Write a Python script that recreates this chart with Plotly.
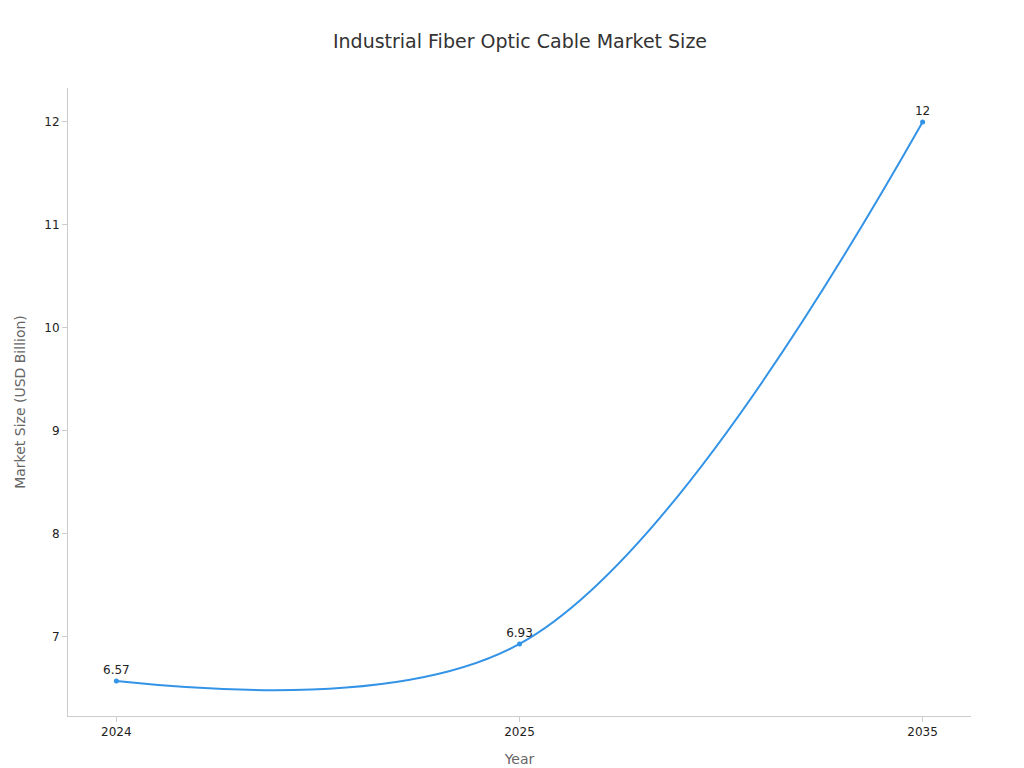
import plotly.graph_objects as go

years = ["2024", "2025", "2035"]
values = [6.57, 6.93, 12]
labels = ["6.57", "6.93", "12"]

fig = go.Figure(go.Scatter(
    x=years, y=values, mode="lines+markers+text",
    line=dict(color="#3393e6", width=2, shape="spline", smoothing=1.0),
    marker=dict(size=5, color="#3393e6"),
    text=labels, textposition="top center",
    textfont=dict(size=12, color="#222"),
    hoverinfo="x+y", showlegend=False,
))
fig.update_layout(
    width=1024, height=768,
    font=dict(family="DejaVu Sans, sans-serif", color="#333"),
    title=dict(text="Industrial Fiber Optic Cable Market Size", x=0.5, xanchor="center",
               y=0.957, yanchor="middle", font=dict(size=19, color="#333")),
    plot_bgcolor="white", paper_bgcolor="white",
    margin=dict(l=60, r=61, t=80, b=60),
    xaxis=dict(type="category", range=[-0.12, 2.12], title=dict(text="Year", font=dict(size=14, color="#666")),
               showline=True, linecolor="#ccc", ticks="outside", tickcolor="#ccc", ticklen=5,
               showgrid=False, tickfont=dict(size=12, color="#222"), zeroline=False),
    yaxis=dict(range=[6.23, 12.33], dtick=1, title=dict(text="Market Size (USD Billion)", font=dict(size=14, color="#666")),
               showline=True, linecolor="#ccc", ticks="outside", tickcolor="#ccc", ticklen=5,
               showgrid=False, tickfont=dict(size=12, color="#222"), zeroline=False),
)
fig.write_html("out.html")
